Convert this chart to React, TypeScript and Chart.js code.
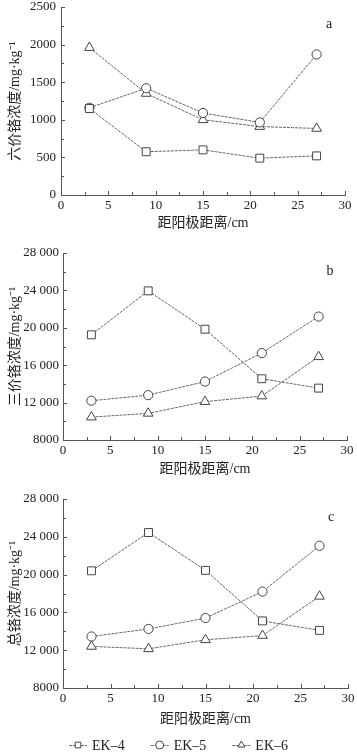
import React, { useEffect, useRef } from "react";
import { Chart, registerables } from "chart.js";

Chart.register(...registerables);

// ---------- data ----------
const distances = [3, 9, 15, 21, 27];
const seriesNames = ["EK–4", "EK–5", "EK–6"];
const xTickLabels = ["0", "5", "10", "15", "20", "25", "30"];

const hexEK4 = [1150, 575, 600, 490, 520];
const hexEK5 = [1160, 1420, 1090, 965, 1870];
const hexEK6 = [1960, 1350, 1000, 910, 885];

const triEK4 = [19250, 23950, 19850, 14550, 13550];
const triEK5 = [12200, 12800, 14250, 17300, 21200];
const triEK6 = [10450, 10850, 12100, 12700, 16900];

const totEK4 = [20400, 24450, 20450, 15100, 14100];
const totEK5 = [13450, 14250, 15400, 18200, 23050];
const totEK6 = [12400, 12150, 13100, 13550, 17700];

const yTicksA = ["0", "500", "1000", "1500", "2000", "2500"];
const yTicksBC = ["8000", "12 000", "16 000", "20 000", "24 000", "28 000"];

const xTitle = "距阳极距离/cm";
const yTitleA = "六价铬浓度/mg·kg⁻¹";
const yTitleB = "三价铬浓度/mg·kg⁻¹";
const yTitleC = "总铬浓度/mg·kg⁻¹";

// ---------- styles ----------
const SERIF = '"Liberation Serif", "Times New Roman", serif';
const TITLE_FONT = '"Liberation Serif", "Noto Sans CJK SC", serif';
const TEXT = "#222";
const AXIS = "#555";
const LINE = "#666";
const MARK = "#444";
const markerStyles = ["rect", "circle", "triangle"];
const markerRadius = [5.6, 4.6, 5.6];

type Spec = {
  height: number;
  area: { top: number; bottom: number; left: number; right: number };
  xAxisH: number;
  padBottom: number;
  yMin: number;
  yMax: number;
  yStep: number;
  yLabels: string[];
  yTitle: string;
  series: number[][];
  tag: string;
  tagX: number;
  tagY: number;
  legendY?: number;
  yTickPad: number;
};

const specs: Spec[] = [
  {
    height: 232,
    area: { top: 7, bottom: 195, left: 61, right: 345 },
    xAxisH: 37,
    padBottom: 0,
    yMin: 0,
    yMax: 2500,
    yStep: 500,
    yLabels: yTicksA,
    yTitle: yTitleA,
    series: [hexEK4, hexEK5, hexEK6],
    tag: "a",
    tagX: 329,
    tagY: 24,
    yTickPad: 5,
  },
  {
    height: 246,
    area: { top: 21, bottom: 208, left: 63, right: 347 },
    xAxisH: 38,
    padBottom: 0,
    yMin: 8000,
    yMax: 28000,
    yStep: 4000,
    yLabels: yTicksBC,
    yTitle: yTitleB,
    series: [triEK4, triEK5, triEK6],
    tag: "b",
    tagX: 330,
    tagY: 39,
    yTickPad: 4,
  },
  {
    height: 278,
    area: { top: 21, bottom: 210, left: 63, right: 348 },
    xAxisH: 39.4,
    padBottom: 28.6,
    yMin: 8000,
    yMax: 28000,
    yStep: 4000,
    yLabels: yTicksBC,
    yTitle: yTitleC,
    series: [totEK4, totEK5, totEK6],
    tag: "c",
    tagX: 331,
    tagY: 39,
    legendY: 267,
    yTickPad: 4,
  },
];

function drawMarker(ctx: CanvasRenderingContext2D, style: string, x: number, y: number, r: number) {
  ctx.beginPath();
  if (style === "rect") {
    const s = r * Math.SQRT1_2;
    ctx.rect(x - s, y - s, 2 * s, 2 * s);
  } else if (style === "circle") {
    ctx.arc(x, y, r, 0, Math.PI * 2);
  } else {
    let a = -Math.PI / 2;
    ctx.moveTo(x + Math.cos(a) * r, y + Math.sin(a) * r);
    a += (2 * Math.PI) / 3;
    ctx.lineTo(x + Math.cos(a) * r, y + Math.sin(a) * r);
    a += (2 * Math.PI) / 3;
    ctx.lineTo(x + Math.cos(a) * r, y + Math.sin(a) * r);
    ctx.closePath();
  }
  ctx.fillStyle = "#fff";
  ctx.fill();
  ctx.strokeStyle = MARK;
  ctx.lineWidth = 1;
  ctx.stroke();
}

function makeDecor(spec: Spec) {
  return {
    id: "decor",
    afterDraw(chart: any) {
      const ctx: CanvasRenderingContext2D = chart.ctx;
      const xs = chart.scales.x;
      const ys = chart.scales.y;
      const { bottom, left } = chart.chartArea;
      ctx.save();
      ctx.strokeStyle = AXIS;
      ctx.lineWidth = 1;
      ctx.beginPath();
      for (let v = 0; v <= 30 + 1e-9; v += 2.5) {
        const px = Math.round(xs.getPixelForValue(v)) + 0.5;
        const major = Math.abs(v / 5 - Math.round(v / 5)) < 1e-6;
        const len = major ? 4 : 3;
        ctx.moveTo(px, bottom);
        ctx.lineTo(px, bottom - len);
      }
      const half = spec.yStep / 2;
      for (let v = spec.yMin; v <= spec.yMax + 1e-9; v += half) {
        const py = Math.round(ys.getPixelForValue(v)) + 0.5;
        const major = Math.abs((v - spec.yMin) / spec.yStep - Math.round((v - spec.yMin) / spec.yStep)) < 1e-6;
        const len = major ? 4 : 3;
        ctx.moveTo(left, py);
        ctx.lineTo(left + len, py);
      }
      ctx.stroke();

      ctx.fillStyle = TEXT;
      ctx.font = `14px ${SERIF}`;
      ctx.textAlign = "center";
      ctx.textBaseline = "middle";
      ctx.fillText(spec.tag, spec.tagX, spec.tagY);

      if (spec.legendY !== undefined) {
        const y = spec.legendY;
        ctx.font = `14px ${SERIF}`;
        const symW = 18;
        const gap = 5;
        const spacing = 26;
        const widths = seriesNames.map((n) => symW + gap + ctx.measureText(n).width);
        const total = widths.reduce((a, b) => a + b, 0) + spacing * (widths.length - 1);
        let x = chart.width / 2 - total / 2;
        seriesNames.forEach((name, i) => {
          ctx.save();
          ctx.strokeStyle = LINE;
          ctx.lineWidth = 1;
          ctx.setLineDash([3, 1]);
          ctx.beginPath();
          ctx.moveTo(x, y + 0.5);
          ctx.lineTo(x + symW, y + 0.5);
          ctx.stroke();
          ctx.setLineDash([]);
          drawMarker(ctx, markerStyles[i], x + symW / 2, y, 4);
          ctx.restore();
          ctx.fillStyle = TEXT;
          ctx.textAlign = "left";
          ctx.textBaseline = "middle";
          ctx.fillText(name, x + symW + gap, y + 1);
          x += widths[i] + spacing;
        });
      }
      ctx.restore();
    },
  };
}

function buildConfig(spec: Spec): any {
  return {
    type: "line",
    data: {
      datasets: spec.series.map((vals, i) => ({
        label: seriesNames[i],
        data: distances.map((d, j) => ({ x: d, y: vals[j] })),
        borderColor: LINE,
        borderWidth: 1,
        borderDash: [3, 1],
        pointStyle: markerStyles[i],
        pointRadius: markerRadius[i],
        pointBackgroundColor: "#fff",
        pointBorderColor: MARK,
        pointBorderWidth: 1,
        tension: 0,
        fill: false,
        clip: false,
      })),
    },
    options: {
      animation: false,
      responsive: false,
      devicePixelRatio: 1,
      layout: {
        padding: {
          top: spec.area.top,
          right: 357 - spec.area.right,
          left: 0,
          bottom: spec.padBottom,
        },
      },
      plugins: {
        legend: { display: false },
        tooltip: { enabled: false },
      },
      scales: {
        x: {
          type: "linear",
          min: 0,
          max: 30,
          offset: false,
          grid: { display: false, drawTicks: false },
          border: { display: true, color: AXIS, width: 1 },
          ticks: {
            stepSize: 5,
            padding: 4,
            color: TEXT,
            font: { family: SERIF, size: 13, lineHeight: 1 },
            maxRotation: 0,
            callback: (_v: any, i: number) => xTickLabels[i],
          },
          title: {
            display: true,
            text: xTitle,
            color: TEXT,
            font: { family: TITLE_FONT, size: 14, lineHeight: 1.2 },
            padding: { top: 0, bottom: 0 },
          },
          afterFit: (s: any) => {
            s.height = spec.xAxisH;
            s.paddingLeft = 0;
            s.paddingRight = 0;
          },
        },
        y: {
          type: "linear",
          min: spec.yMin,
          max: spec.yMax,
          grid: { display: false, drawTicks: false },
          border: { display: true, color: AXIS, width: 1 },
          ticks: {
            stepSize: spec.yStep,
            padding: spec.yTickPad,
            color: TEXT,
            font: { family: SERIF, size: 13, lineHeight: 1 },
            callback: (_v: any, i: number) => spec.yLabels[i],
          },
          title: {
            display: true,
            text: spec.yTitle,
            color: TEXT,
            font: { family: TITLE_FONT, size: 14, lineHeight: 1.2 },
            padding: { top: 7, bottom: 0 },
          },
          afterFit: (s: any) => {
            s.width = spec.area.left;
            s.paddingTop = 0;
            s.paddingBottom = 0;
          },
        },
      },
    },
    plugins: [makeDecor(spec)],
  };
}

function Panel({ spec }: { spec: Spec }) {
  const ref = useRef<HTMLCanvasElement>(null);
  useEffect(() => {
    const chart = new Chart(ref.current as HTMLCanvasElement, buildConfig(spec));
    return () => chart.destroy();
  }, [spec]);
  return (
    <canvas
      ref={ref}
      width={357}
      height={spec.height}
      style={{ display: "block", width: 357, height: spec.height }}
    />
  );
}

export default function App() {
  return (
    <div style={{ position: "absolute", left: 0, top: 0, width: 357, height: 756, background: "#fff" }}>
      {specs.map((s, i) => (
        <Panel key={i} spec={s} />
      ))}
    </div>
  );
}
